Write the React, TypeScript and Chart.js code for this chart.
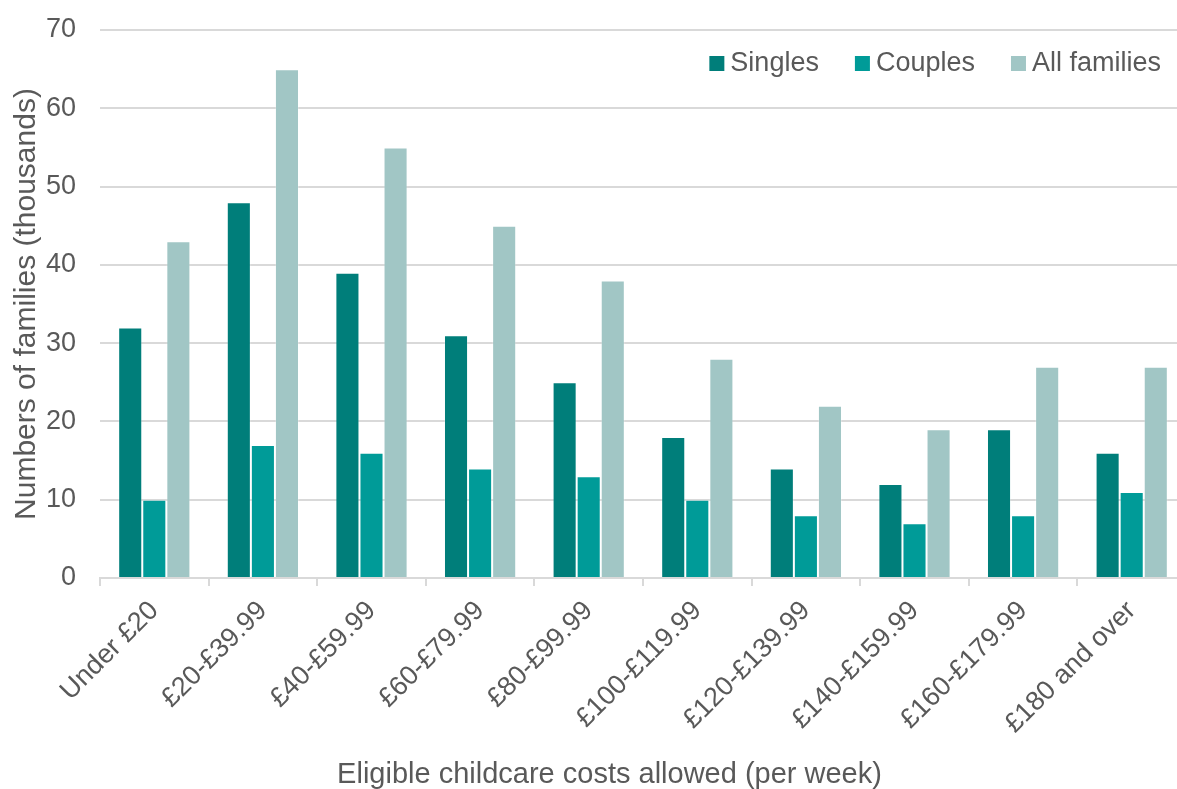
import React, { useEffect, useRef } from "react";
import { Chart, registerables } from "chart.js";

Chart.register(...registerables);

// Weekly eligible childcare cost bands
const categories = [
  "Under £20",
  "£20-£39.99",
  "£40-£59.99",
  "£60-£79.99",
  "£80-£99.99",
  "£100-£119.99",
  "£120-£139.99",
  "£140-£159.99",
  "£160-£179.99",
  "£180 and over",
];

// Numbers of families (thousands)
const singles = [32, 48, 39, 31, 25, 18, 14, 12, 19, 16];
const couples = [10, 17, 16, 14, 13, 10, 8, 7, 8, 11];
const allFamilies = [43, 65, 55, 45, 38, 28, 22, 19, 27, 27];

const seriesNames = ["Singles", "Couples", "All families"];
const seriesColors = ["#007E7A", "#009B98", "#A1C6C5"];

const yTitle = "Numbers of families (thousands)";
const xTitle = "Eligible childcare costs allowed (per week)";

const FONT = "'Liberation Sans', Arial, sans-serif";
const TEXT = "#595959";
const GRID = "#d9d9d9";

// Legend inside the plot area (top right) plus the x-axis caption
const overlayPlugin = {
  id: "overlay",
  afterDraw(chart: any) {
    const { ctx, chartArea } = chart;
    ctx.save();
    ctx.font = `27px ${FONT}`;
    ctx.textBaseline = "middle";
    ctx.textAlign = "left";
    const box = 15;
    const gapText = 6;
    const gapItem = 36;
    const widths = seriesNames.map((n) => ctx.measureText(n).width);
    const total =
      widths.reduce((a, w) => a + box + gapText + w, 0) +
      gapItem * (seriesNames.length - 1);
    let x = chartArea.right - 25 - total;
    const yMid = chartArea.top + 34;
    seriesNames.forEach((name, i) => {
      ctx.fillStyle = seriesColors[i];
      ctx.fillRect(x, yMid - 8, box, box);
      ctx.fillStyle = TEXT;
      ctx.fillText(name, x + box + gapText, yMid);
      x += box + gapText + widths[i] + gapItem;
    });

    ctx.font = `29px ${FONT}`;
    ctx.textAlign = "center";
    ctx.fillStyle = TEXT;
    ctx.fillText(xTitle, 609.5, chart.height - 14);
    ctx.restore();
  },
};

export default function App() {
  const canvasRef = useRef<HTMLCanvasElement | null>(null);

  useEffect(() => {
    if (!canvasRef.current) return;
    const data = [singles, couples, allFamilies];
    const chart = new Chart(canvasRef.current, {
      type: "bar",
      data: {
        labels: categories,
        datasets: seriesNames.map((name, i) => ({
          label: name,
          data: data[i],
          backgroundColor: seriesColors[i],
          borderColor: "rgba(255,255,255,0.25)",
          borderWidth: 1,
          barPercentage: 1,
          categoryPercentage: 0.665,
        })),
      },
      options: {
        responsive: false,
        animation: false,
        devicePixelRatio: 1,
        layout: { padding: { top: 30, left: 0, right: 0, bottom: 0 } },
        plugins: {
          legend: { display: false },
          tooltip: { enabled: false },
        },
        scales: {
          x: {
            afterFit(scale: any) {
              scale.height = 211;
              scale.paddingLeft = 0;
              scale.paddingRight = 0;
            },
            grid: {
              offset: true,
              drawOnChartArea: false,
              drawTicks: true,
              tickLength: 8,
              color: GRID,
              lineWidth: 2,
            },
            border: { display: true, color: GRID, width: 2 },
            ticks: {
              color: TEXT,
              font: { family: FONT, size: 27 },
              maxRotation: 45,
              minRotation: 45,
              padding: 9,
              autoSkip: false,
            },
          },
          y: {
            min: 0,
            max: 70,
            afterFit(scale: any) {
              scale.width = 100;
              scale.paddingTop = 0;
              scale.paddingBottom = 0;
            },
            grid: { color: GRID, lineWidth: 2, drawTicks: false },
            border: { display: false },
            ticks: {
              stepSize: 10,
              color: TEXT,
              font: { family: FONT, size: 27 },
              padding: 24,
            },
            title: {
              display: true,
              text: yTitle,
              color: TEXT,
              font: { family: FONT, size: 30, lineHeight: 1 },
              padding: { top: 12, bottom: 0 },
            },
          },
        },
      },
      plugins: [overlayPlugin],
    });
    return () => chart.destroy();
  }, []);

  return (
    <div
      style={{
        position: "absolute",
        left: 0,
        top: 0,
        width: 1177,
        height: 789,
        overflow: "hidden",
        background: "#ffffff",
      }}
    >
      <canvas ref={canvasRef} width={1186} height={789} style={{ display: "block" }} />
    </div>
  );
}
